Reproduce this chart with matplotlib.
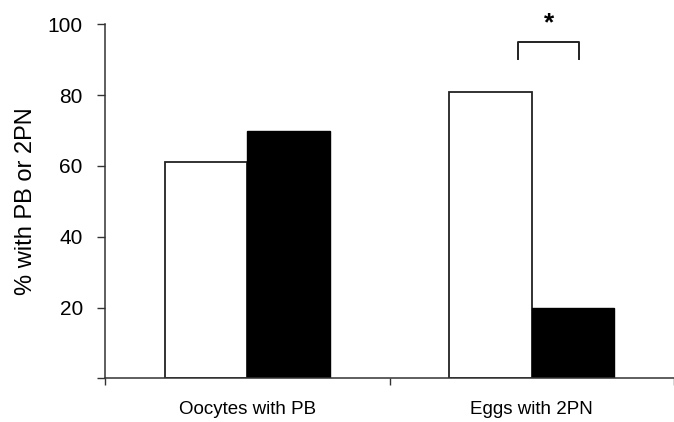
import matplotlib
matplotlib.use("Agg")
import matplotlib.pyplot as plt
import numpy as np

plt.rcParams['font.family'] = ['Liberation Sans', 'DejaVu Sans']

categories = ["Oocytes with PB", "Eggs with 2PN"]
white_vals = [61, 81]
black_vals = [70, 20]
yticks = [0, 20, 40, 60, 80, 100]
ytick_labels = ["", "20", "40", "60", "80", "100"]

W, H = 674, 422
fig = plt.figure(figsize=(W/100, H/100), dpi=100)
ax = fig.add_axes([105/W, (H-378.3)/H, (W-105)/W, 354/H])

x = np.arange(len(categories))
bw = 0.29
ax.bar(x - bw/2, white_vals, bw, color="white", edgecolor="#222222", linewidth=1.3, zorder=2)
ax.bar(x + bw/2, black_vals, bw, color="black", edgecolor="black", linewidth=1.0, zorder=2)

ax.set_xlim(-0.5, -0.5 + (W-105)/288)
ax.set_ylim(0, 100)
ax.set_yticks(yticks)
ax.set_yticklabels(ytick_labels, fontsize=15)
ax.set_xticks([-0.5, 0.5, 1.5])
ax.set_xticklabels(["", "", ""])
ax.set_xticks(x, minor=True)
ax.set_xticklabels(categories, minor=True, fontsize=13.5)
ax.tick_params(axis='x', which='minor', length=0, pad=16)
ax.tick_params(axis='x', which='major', length=5, width=1, color="#333333")
ax.tick_params(axis='y', length=6, width=1, color="#333333", pad=10)
for s in ["top", "right"]:
    ax.spines[s].set_visible(False)
for s in ["left", "bottom"]:
    ax.spines[s].set_color("#333333")
    ax.spines[s].set_linewidth(1.1)

ax.set_ylabel("% with PB or 2PN", fontsize=17, labelpad=8)

# significance bracket
bx0, bx1 = 0.952, 1.167
ax.plot([bx0, bx0, bx1, bx1], [90.1, 95.1, 95.1, 90.1], color="#222222", lw=1.4, clip_on=False, zorder=3)
ax.text((bx0 + bx1)/2, 97.0, "*", ha="center", va="bottom", fontsize=19, fontweight="bold", clip_on=False)

fig.savefig("out.png", dpi=100)
